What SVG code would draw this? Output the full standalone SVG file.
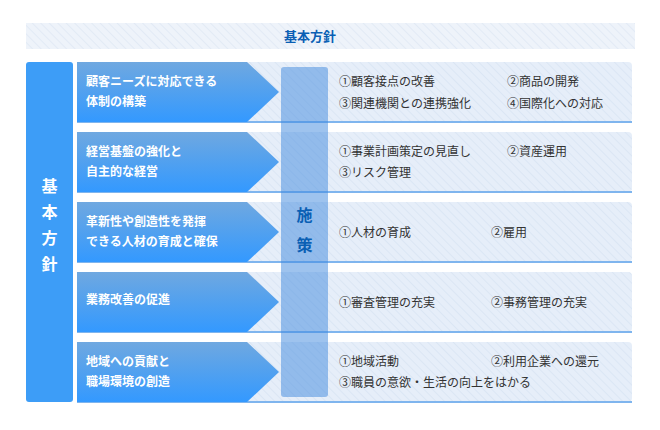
<svg xmlns="http://www.w3.org/2000/svg" width="660" height="430" viewBox="0 0 660 430">
<defs>
<pattern id="hatch" width="6" height="6" patternUnits="userSpaceOnUse" patternTransform="rotate(-45)">
<rect width="6" height="6" fill="#eef3fa"/><line x1="0" y1="0" x2="0" y2="6" stroke="#e2eaf5" stroke-width="2"/>
</pattern>
<pattern id="hatch2" width="6" height="6" patternUnits="userSpaceOnUse" patternTransform="rotate(-45)">
<rect width="6" height="6" fill="#e6eef9"/><line x1="0" y1="0" x2="0" y2="6" stroke="#dbe6f4" stroke-width="2"/>
</pattern>
<linearGradient id="ag" x1="0" y1="0" x2="0" y2="1"><stop offset="0" stop-color="#6fa8e0"/><stop offset="1" stop-color="#3399ff"/></linearGradient>
<style>
.t{font-family:"Noto Sans CJK JP","Noto Sans CJK SC",sans-serif;font-size:12px;fill:#333}
.w{font-family:"Noto Sans CJK JP","Noto Sans CJK SC",sans-serif;font-size:12px;font-weight:bold;fill:#fff}
.h{font-family:"Noto Sans CJK JP",sans-serif;font-size:13px;font-weight:bold;fill:#0a5fb4}
.v{font-family:"Noto Sans CJK JP",sans-serif;font-size:16px;font-weight:bold}
</style>
</defs>
<rect width="660" height="430" fill="#fff"/>
<g id="header"><rect x="26" y="23" width="609" height="26" fill="url(#hatch)"/><text class="h" x="310" y="41" text-anchor="middle">基本方針</text></g>
<g id="left"><rect x="26" y="62" width="47" height="340" rx="3" fill="#3d9df7"/>
<text class="v" fill="#fff" x="49.5" text-anchor="middle"><tspan x="49.5" y="192">基</tspan><tspan x="49.5" y="218">本</tspan><tspan x="49.5" y="244">方</tspan><tspan x="49.5" y="270">針</tspan></text></g>
<g id="rows">
<g id="r1"><rect x="77" y="62" width="555" height="60" rx="4" fill="url(#hatch2)"/><line x1="77" y1="122" x2="632" y2="122" stroke="#7fb5ee" stroke-width="2"/><path d="M77 62H247L279 92L247 122H77Z" fill="url(#ag)"/>
<text class="w" x="86" y="86">顧客ニーズに対応できる</text><text class="w" x="86" y="106">体制の構築</text>
<text class="t" x="339" y="86">①顧客接点の改善</text><text class="t" x="507" y="86">②商品の開発</text><text class="t" x="339" y="108">③関連機関との連携強化</text><text class="t" x="507" y="108">④国際化への対応</text></g>
<g id="r2"><rect x="77" y="132" width="555" height="60" rx="4" fill="url(#hatch2)"/><line x1="77" y1="192" x2="632" y2="192" stroke="#7fb5ee" stroke-width="2"/><path d="M77 132H247L279 162L247 192H77Z" fill="url(#ag)"/>
<text class="w" x="86" y="156">経営基盤の強化と</text><text class="w" x="86" y="176">自主的な経営</text>
<text class="t" x="339" y="156">①事業計画策定の見直し</text><text class="t" x="507" y="156">②資産運用</text><text class="t" x="339" y="177">③リスク管理</text></g>
<g id="r3"><rect x="77" y="202" width="555" height="60" rx="4" fill="url(#hatch2)"/><line x1="77" y1="262" x2="632" y2="262" stroke="#7fb5ee" stroke-width="2"/><path d="M77 202H247L279 232L247 262H77Z" fill="url(#ag)"/>
<text class="w" x="86" y="226">革新性や創造性を発揮</text><text class="w" x="86" y="246">できる人材の育成と確保</text>
<text class="t" x="339" y="237">①人材の育成</text><text class="t" x="491" y="237">②雇用</text></g>
<g id="r4"><rect x="77" y="272" width="555" height="60" rx="4" fill="url(#hatch2)"/><line x1="77" y1="332" x2="632" y2="332" stroke="#7fb5ee" stroke-width="2"/><path d="M77 272H247L279 302L247 332H77Z" fill="url(#ag)"/>
<text class="w" x="86" y="304">業務改善の促進</text>
<text class="t" x="339" y="307">①審査管理の充実</text><text class="t" x="491" y="307">②事務管理の充実</text></g>
<g id="r5"><rect x="77" y="342" width="555" height="60" rx="4" fill="url(#hatch2)"/><line x1="77" y1="402" x2="632" y2="402" stroke="#7fb5ee" stroke-width="2"/><path d="M77 342H247L279 372L247 402H77Z" fill="url(#ag)"/>
<text class="w" x="86" y="366">地域への貢献と</text><text class="w" x="86" y="386">職場環境の創造</text>
<text class="t" x="339" y="366">①地域活動</text><text class="t" x="491" y="366">②利用企業への還元</text><text class="t" x="339" y="387">③職員の意欲・生活の向上をはかる</text></g>
</g>
<g id="center"><rect x="281" y="67" width="47" height="330" rx="3" fill="#3d88dd" fill-opacity="0.5"/>
<text class="v" fill="#0a5fb4" x="304.5" text-anchor="middle"><tspan x="304.5" y="221">施</tspan><tspan x="304.5" y="251">策</tspan></text></g>
</svg>
